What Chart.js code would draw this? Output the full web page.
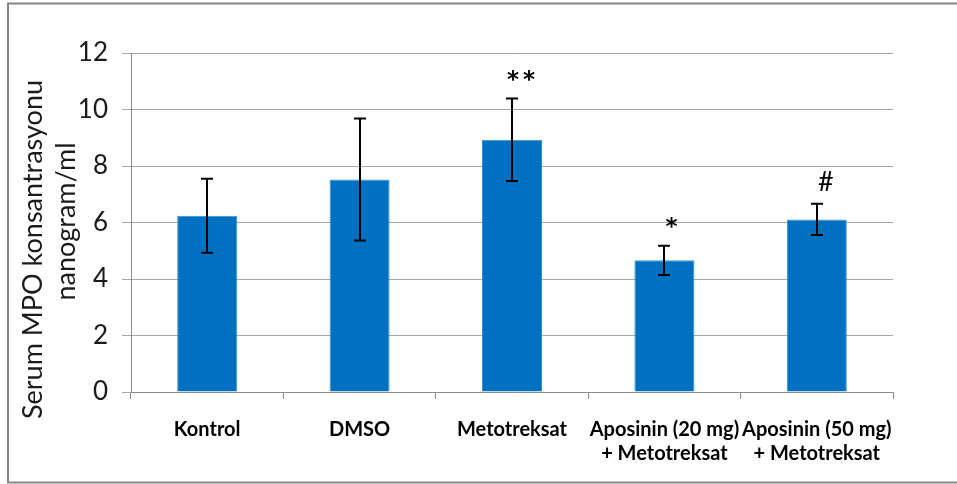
<!DOCTYPE html>
<html>
<head>
<meta charset="utf-8">
<title>Serum MPO</title>
<script src="https://cdn.jsdelivr.net/npm/chart.js@4.4.1/dist/chart.umd.min.js"></script>
<style>
  html, body { margin: 0; padding: 0; background: #ffffff; }
  #wrap { width: 957px; height: 484px; }
</style>
</head>
<body>
<div id="wrap"><canvas id="mpoChart" width="957" height="484"></canvas></div>
<script>
// Group names (two-line labels for the combination groups)
const categories = [
  ["Kontrol"],
  ["DMSO"],
  ["Metotreksat"],
  ["Aposinin (20 mg)", "+ Metotreksat"],
  ["Aposinin (50 mg)", "+ Metotreksat"]
];
// Mean serum MPO concentration (ng/ml) and its error (±)
const mpoMeans  = [6.24, 7.52, 8.93, 4.66, 6.11];
const mpoErrors = [1.31, 2.16, 1.46, 0.52, 0.55];
// Significance markers shown above each error bar
const significance = ["", "", "**", "*", "#"];
// Value axis
const yMin = 0, yMax = 12, yStep = 2;
const yTitle = ["Serum MPO konsantrasyonu", "nanogram/ml"];

const FONT = "Lato, 'Open Sans', sans-serif";

// White page plus the grey frame around the chart
const framePlugin = {
  id: 'frame',
  beforeDraw(chart) {
    const ctx = chart.ctx;
    ctx.save();
    ctx.fillStyle = '#ffffff';
    ctx.fillRect(0, 0, chart.width, chart.height);
    ctx.restore();
  },
  afterDraw(chart) {
    const ctx = chart.ctx;
    ctx.save();
    ctx.strokeStyle = '#868686';
    ctx.lineWidth = 2;
    ctx.strokeRect(8, 3.5, chart.width + 20, chart.height - 5);
    ctx.restore();
  }
};

// Vertical error bars with caps, from mean ± error
const errorBarPlugin = {
  id: 'errorBars',
  afterDatasetsDraw(chart) {
    const ctx = chart.ctx;
    const yScale = chart.scales.y;
    const meta = chart.getDatasetMeta(0);
    ctx.save();
    ctx.strokeStyle = '#000000';
    ctx.lineWidth = 2;
    meta.data.forEach((bar, i) => {
      const x = Math.round(bar.x);
      const top = yScale.getPixelForValue(mpoMeans[i] + mpoErrors[i]);
      const bot = yScale.getPixelForValue(mpoMeans[i] - mpoErrors[i]);
      const cap = 6;
      ctx.beginPath();
      ctx.moveTo(x, top); ctx.lineTo(x, bot);
      ctx.moveTo(x - cap, top); ctx.lineTo(x + cap, top);
      ctx.moveTo(x - cap, bot); ctx.lineTo(x + cap, bot);
      ctx.stroke();
    });
    ctx.restore();
  }
};

// Significance symbols placed above the top of each error bar
const significancePlugin = {
  id: 'significance',
  afterDatasetsDraw(chart) {
    const ctx = chart.ctx;
    const yScale = chart.scales.y;
    const meta = chart.getDatasetMeta(0);
    ctx.save();
    ctx.fillStyle = '#000000';
    ctx.textAlign = 'center';
    ctx.textBaseline = 'alphabetic';
    meta.data.forEach((bar, i) => {
      const mark = significance[i];
      if (!mark) return;
      if (mark.indexOf('*') >= 0) {
        ctx.font = "bold 23px 'DejaVu Sans', sans-serif";
        if ('letterSpacing' in ctx) ctx.letterSpacing = '4px';
      } else {
        ctx.font = "27px " + FONT;
        if ('letterSpacing' in ctx) ctx.letterSpacing = '0px';
      }
      const m = ctx.measureText(mark);
      const centerY = yScale.getPixelForValue(mpoMeans[i] + mpoErrors[i]) - 23;
      const baseY = centerY + (m.actualBoundingBoxAscent - m.actualBoundingBoxDescent) / 2;
      const shift = mark.length > 1 ? 2 : 0; // trailing letter spacing
      ctx.fillText(mark, bar.x + 9 + shift, baseY);
    });
    ctx.restore();
  }
};

// Two-line rotated value-axis title
const yTitlePlugin = {
  id: 'yTitle',
  afterDraw(chart) {
    const ctx = chart.ctx;
    const area = chart.chartArea;
    const mid = (area.top + area.bottom) / 2;
    ctx.save();
    ctx.fillStyle = '#1a1a1a';
    ctx.font = "27px " + FONT;
    ctx.textAlign = 'center';
    ctx.textBaseline = 'alphabetic';
    const lines = [
      { text: yTitle[0], x: 42, y: mid + 27 },
      { text: yTitle[1], x: 75, y: mid - 1 }
    ];
    lines.forEach(l => {
      ctx.save();
      ctx.translate(l.x, l.y);
      ctx.rotate(-Math.PI / 2);
      ctx.fillText(l.text, 0, 0);
      ctx.restore();
    });
    ctx.restore();
  }
};

new Chart(document.getElementById('mpoChart'), {
  type: 'bar',
  data: {
    labels: categories,
    datasets: [{
      data: mpoMeans,
      backgroundColor: '#0070c0',
      borderColor: '#3d8fd3',
      borderWidth: 1,
      categoryPercentage: 1.0,
      barPercentage: 0.394
    }]
  },
  options: {
    responsive: false,
    devicePixelRatio: 1,
    animation: false,
    layout: { padding: { left: 0, top: 53, right: 64, bottom: 0 } },
    plugins: {
      legend: { display: false },
      tooltip: { enabled: false },
      title: { display: false }
    },
    scales: {
      x: {
        grid: { drawOnChartArea: false, drawTicks: true, tickLength: 7, color: '#8c8c8c', offset: true },
        border: { color: '#8c8c8c', width: 1 },
        ticks: {
          font: { family: FONT, weight: 'bold', size: 20, lineHeight: 1.2 },
          color: '#000000',
          padding: 19,
          maxRotation: 0,
          autoSkip: false
        },
        afterFit(scale) { scale.height = 92; }
      },
      y: {
        min: yMin,
        max: yMax,
        ticks: {
          stepSize: yStep,
          font: { family: FONT, size: 26 },
          color: '#1a1a1a',
          padding: 14
        },
        grid: { color: '#a6a6a6', tickLength: 9 },
        border: { color: '#8c8c8c', width: 1 },
        afterFit(scale) { scale.width = 131; }
      }
    }
  },
  plugins: [framePlugin, errorBarPlugin, significancePlugin, yTitlePlugin]
});
</script>
</body>
</html>
